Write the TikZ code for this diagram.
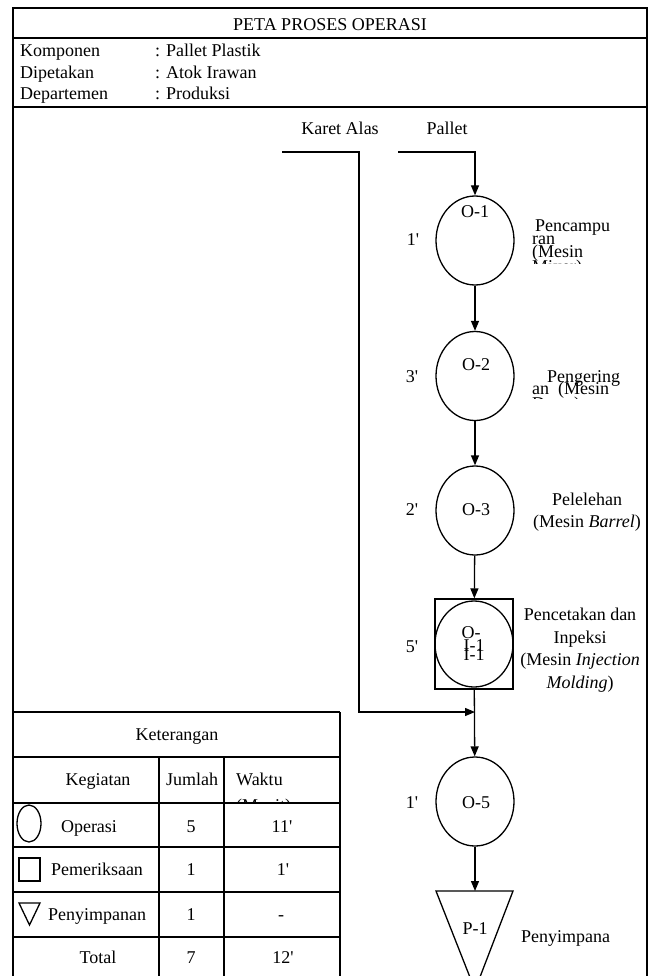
\documentclass[tikz,border=0pt]{standalone}
\usepackage{fontspec}
\setmainfont{Liberation Serif}[Ligatures=TeXOff]
\usetikzlibrary{arrows.meta,shapes.geometric}
\begin{document}
\begin{tikzpicture}[x=1pt,y=-1pt,
  frame/.style={line width=1.7pt},
  shp/.style={draw,line width=1.3pt},
  op/.style={shp,ellipse,minimum width=78pt,minimum height=89pt,inner sep=0pt},
  flow/.style={line width=1.3pt,-{Triangle[length=10pt,width=8pt]}},
  plain/.style={line width=1.3pt},
  tx/.style={anchor=base,inner sep=0pt,font=\fontsize{18}{20}\selectfont},
  txl/.style={tx,anchor=base west},
]
\useasboundingbox (0,0) rectangle (654,976);
\clip (0,0) rectangle (654,976);

% frame
\draw[frame] (13,995) -- (13,8) -- (647,8) -- (647,995);
\draw[frame] (13,38) -- (647,38);
\draw[frame] (13,107) -- (647,107);
\node[tx] (title) at (330,31) {PETA PROSES OPERASI};
\node[txl] (k1) at (20,57) {Komponen};
\node[txl] (k2) at (20,79) {Dipetakan};
\node[txl] (k3) at (20,100) {Departemen};
\node[txl] (v1) at (155,57) {: Pallet Plastik};
\node[txl] (v2) at (155,79) {: Atok Irawan};
\node[txl] (v3) at (155,100) {: Produksi};

% inputs
\node[tx] (karet) at (340,135) {Karet Alas};
\node[tx] (pallet) at (447,135) {Pallet};
\coordinate (palA) at (398,152);
\coordinate (karA) at (282,152);
\coordinate (karB) at (359,152);
\coordinate (karC) at (359,712);
\coordinate (j) at (475,712);

% operations
\node[op] (O1) at (475,240.5) {};
\node[op] (O2) at (475,376) {};
\node[op] (O3) at (475,510.5) {};
\node[shp,rectangle,minimum width=78pt,minimum height=90pt,inner sep=0pt] (sq) at (474,644) {};
\node[op,minimum height=86pt] (O4) at (474,644) {};
\node[op] (O5) at (475,801.5) {};
\draw[shp] (436,891) -- (513,891) -- (475,990) -- cycle;
\coordinate (P1top) at (475,891);

% connectors
\draw[flow] (palA) -| (O1.north);
\draw[flow] (karA) -- (karB) -- (karC) -- (j);
\draw[flow] (O1) -- (O2);
\draw[flow] (O2) -- (O3);
\draw[flow] (O3) -- (sq);
\draw[flow] (sq) -- (O5);
\draw[flow] (O5) -- (P1top);

% labels in shapes
\node[tx] (l1) at (475,218) {O-1};
\node[tx] (l2) at (476,370) {O-2};
\node[tx] (l3) at (476,515) {O-3};
\node[tx] (l4a) at (471,638) {O-};
\node[tx] (l4b) at (474,651) {I-1};
\node[tx] (l4c) at (474,660) {I-1};
\node[tx] (l5) at (476,808) {O-5};
\node[tx] (l6) at (475,934) {P-1};

% times
\node[tx] (t1) at (413,245) {1'};
\node[tx] (t2) at (412,382) {3'};
\node[tx] (t3) at (412,515) {2'};
\node[tx] (t4) at (412,652) {5'};
\node[tx] (t5) at (412,808) {1'};

% descriptions
\begin{scope}
\clip (520,200) rectangle (645,263);
\node[txl] (d1a) at (535,232) {Pencampu};
\node[txl] (d1b) at (532,244) {ran};
\node[txl] (d1c) at (532,257) {(Mesin};
\node[txl] (d1d) at (532,272) {Mixer)};
\end{scope}
\begin{scope}
\clip (520,350) rectangle (645,398);
\node[txl] (d2a) at (547,382) {Pengering};
\node[txl] (d2b) at (532,394) {an\ \ (Mesin};
\node[txl] (d2c) at (532,409) {Dryer)};
\end{scope}
\node[tx] (d3a) at (587,505) {Pelelehan};
\node[tx] (d3b) at (587,527) {(Mesin \textit{Barrel})};
\node[tx] (d4a) at (580,620) {Pencetakan dan};
\node[tx] (d4b) at (580,643) {Inpeksi};
\node[tx] (d4c) at (580,665) {(Mesin \textit{Injection}};
\node[tx] (d4d) at (580,688) {\textit{Molding})};
\node[txl] (d6) at (521,942) {Penyimpana};

% table
\draw[frame] (13,712) -- (340,712);
\draw[frame] (13,757) -- (340,757);
\draw[frame] (13,803) -- (340,803);
\draw[frame] (13,847) -- (340,847);
\draw[frame] (13,892) -- (340,892);
\draw[frame] (13,937) -- (340,937);
\draw[frame] (340,712) -- (340,995);
\draw[frame] (159,757) -- (159,995);
\draw[frame] (224,757) -- (224,995);

\node[tx] (ket) at (177,740) {Keterangan};
\node[tx] (hk) at (98,785) {Kegiatan};
\node[tx] (hj) at (192,785) {Jumlah};
\begin{scope}
\clip (226,759) rectangle (338,801.5);
\node[txl] (hw) at (236,785) {Waktu};
\node[txl] (hm) at (236,811) {(Menit)};
\end{scope}

\node[shp,ellipse,minimum width=24pt,minimum height=37pt,inner sep=0pt] (ic1) at (29,823.5) {};
\node[shp,rectangle,minimum width=21pt,minimum height=23pt,inner sep=0pt] (ic2) at (29.5,869.5) {};
\draw[shp,line join=miter] (19,903) -- (40,903) -- (29.5,925) -- cycle;
\coordinate (ic3) at (29.5,912);

\node[tx] (r1a) at (89,832) {Operasi};
\node[tx] (r1b) at (191,832) {5};
\node[tx] (r1c) at (282,832) {11'};
\node[tx] (r2a) at (97,875) {Pemeriksaan};
\node[tx] (r2b) at (191,875) {1};
\node[tx] (r2c) at (283,875) {1'};
\node[tx] (r3a) at (97,920) {Penyimpanan};
\node[tx] (r3b) at (191,920) {1};
\node[tx] (r3c) at (281,920) {-};
\node[tx] (r4a) at (98,963) {Total};
\node[tx] (r4b) at (191,963) {7};
\node[tx] (r4c) at (283,963) {12'};
\end{tikzpicture}
\end{document}
